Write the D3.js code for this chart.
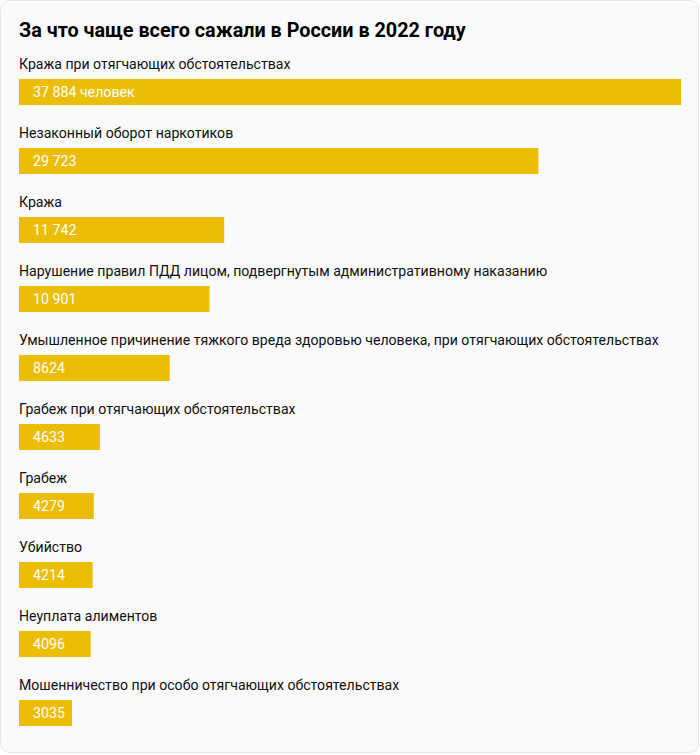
<!DOCTYPE html>
<html><head><meta charset="utf-8">
<script src="https://cdn.jsdelivr.net/npm/d3@7"></script>
<style>
html,body{margin:0;padding:0;background:#fff;}
svg{display:block;}
</style></head>
<body>
<svg id="chart" width="700" height="755"></svg>
<script>
const title = "За что чаще всего сажали в России в 2022 году";
const categories = [
  "Кража при отягчающих обстоятельствах",
  "Незаконный оборот наркотиков",
  "Кража",
  "Нарушение правил ПДД лицом, подвергнутым административному наказанию",
  "Умышленное причинение тяжкого вреда здоровью человека, при отягчающих обстоятельствах",
  "Грабеж при отягчающих обстоятельствах",
  "Грабеж",
  "Убийство",
  "Неуплата алиментов",
  "Мошенничество при особо отягчающих обстоятельствах"
];
const values = [37884, 29723, 11742, 10901, 8624, 4633, 4279, 4214, 4096, 3035];
const valueLabels = ["37 884 человек", "29 723", "11 742", "10 901", "8624", "4633", "4279", "4214", "4096", "3035"];

const svg = d3.select("#chart");
const font = "Roboto, 'Noto Sans', sans-serif";

svg.append("rect").attr("x",0.5).attr("y",0.5).attr("width",698).attr("height",752)
  .attr("rx",9).attr("fill","#fafafa").attr("stroke","#e6e6e6");

svg.append("text").attr("x",19).attr("y",37).text(title)
  .attr("font-family",font).attr("font-size",19.8).attr("font-weight",700).attr("fill","#000");

const x = d3.scaleLinear().domain([0, d3.max(values)]).range([0, 662]);
const y = d3.scaleBand().domain(d3.range(categories.length)).range([59, 59+69*categories.length]);

const g = svg.selectAll("g.row").data(values).join("g").attr("class","row")
  .attr("transform",(d,i)=>`translate(19,${y(i)})`);

g.append("text").attr("x",0).attr("y",10).text((d,i)=>categories[i])
  .attr("font-family",font).attr("font-size",14.1).attr("fill","#111");

g.append("rect").attr("x",0).attr("y",20).attr("height",26)
  .attr("width",d=>x(d)).attr("fill","#ebbd05");

g.append("text").attr("x",14).attr("y",38).text((d,i)=>valueLabels[i])
  .attr("font-family",font).attr("font-size",14.2).attr("fill","#fff");
</script>
</body></html>
